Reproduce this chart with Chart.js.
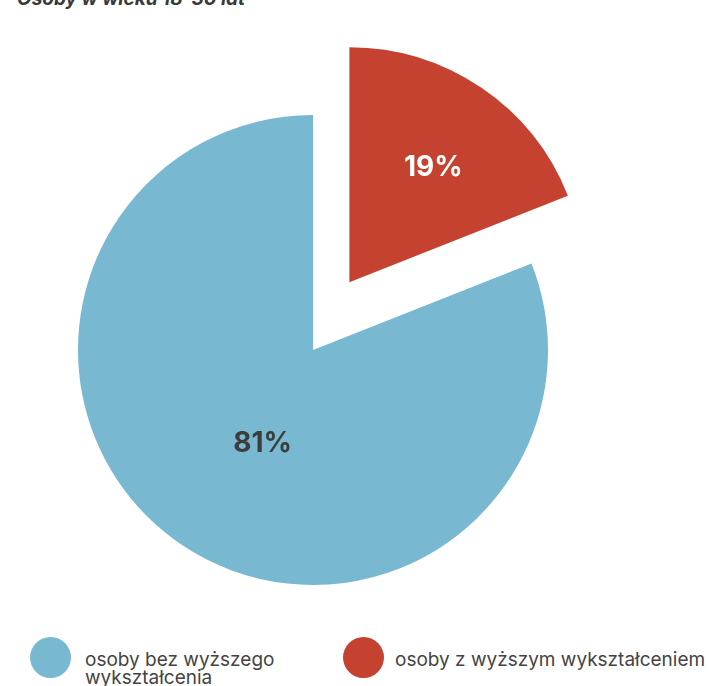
<!DOCTYPE html>
<html>
<head>
<meta charset="utf-8">
<script src="https://cdn.jsdelivr.net/npm/chart.js@4/dist/chart.umd.min.js"></script>
<style>
  html, body { margin: 0; padding: 0; background: #fff; width: 709px; height: 686px; overflow: hidden; }
  #wrap { position: relative; width: 709px; height: 686px; }
  #title { position: absolute; left: 17px; top: -13px; font: italic 700 19px Inter, sans-serif; color: #3a3a3a; white-space: nowrap; }
  canvas { position: absolute; left: 0; top: 0; }
  .dot { position: absolute; width: 41px; height: 41px; border-radius: 50%; }
  .txt { position: absolute; line-height: 18px; white-space: nowrap; }
</style>
</head>
<body>
<div id="wrap">
  <div id="title">Osoby w wieku 18-30 lat</div>
  <canvas id="c" width="709" height="620"></canvas>
  <div id="legend"></div>
</div>
<script>
const categories = ["osoby bez wyższego\nwykształcenia", "osoby z wyższym wykształceniem"];
const values = [81, 19];
const valueLabels = ["81%", "19%"];
const colors = ["#78b8d0", "#c4422f"];
const labelColors = ["#3d3d3d", "#ffffff"];

const total = values.reduce((a, b) => a + b, 0);

// explode slices: distance (px) and angle shift (deg) from the slice's mid angle
const explodeDist = [0, 77];
const explodeAngle = [0, -6];

const explodePlugin = {
  id: 'explode',
  afterDatasetUpdate(chart, args) {
    if (args.index !== 0) return;
    const meta = chart.getDatasetMeta(0);
    meta.data.forEach((arc, i) => {
      if (!explodeDist[i]) return;
      const mid = (arc.startAngle + arc.endAngle) / 2 + explodeAngle[i] * Math.PI / 180;
      arc.x += Math.cos(mid) * explodeDist[i];
      arc.y += Math.sin(mid) * explodeDist[i];
    });
  }
};

const labelPlugin = {
  id: 'sliceLabels',
  afterDatasetsDraw(chart) {
    const ctx = chart.ctx;
    const meta = chart.getDatasetMeta(0);
    const ratios = [0.453, 0.605];
    const angleTweak = [-6 * Math.PI / 180, 2 * Math.PI / 180];
    meta.data.forEach((arc, i) => {
      const p = arc.getProps(['x', 'y', 'startAngle', 'endAngle', 'outerRadius'], true);
      const mid = (p.startAngle + p.endAngle) / 2;
      const r = p.outerRadius * ratios[i];
      const a = mid + angleTweak[i];
      ctx.save();
      ctx.font = "700 28px Inter, sans-serif";
      ctx.fillStyle = labelColors[i];
      ctx.textAlign = "center";
      ctx.textBaseline = "middle";
      ctx.fillText(valueLabels[i], p.x + Math.cos(a) * r, p.y + Math.sin(a) * r);
      ctx.restore();
    });
  }
};

new Chart(document.getElementById('c'), {
  type: 'pie',
  data: {
    labels: categories,
    datasets: [{
      data: values,
      backgroundColor: colors,
      borderWidth: 0,
      hoverOffset: 0
    }]
  },
  options: {
    responsive: false,
    animation: false,
    rotation: 360 * values[1] / total,
    radius: 235,
    layout: { padding: { left: 0, right: 83, top: 80, bottom: 0 } },
    plugins: {
      legend: { display: false },
      tooltip: { enabled: false }
    }
  },
  plugins: [explodePlugin, labelPlugin]
});

// HTML legend
const legendPos = [
  { dx: 30, tx: 85 },
  { dx: 343, tx: 395 }
];
const legend = document.getElementById('legend');
categories.forEach((cat, i) => {
  const d = document.createElement('div');
  d.className = 'dot';
  d.style.left = legendPos[i].dx + 'px';
  d.style.top = '637px';
  d.style.background = colors[i];
  legend.appendChild(d);
  const t = document.createElement('div');
  t.className = 'txt';
  t.style.left = legendPos[i].tx + 'px';
  t.style.top = '651px';
  t.style.font = "400 19px Inter, sans-serif";
  t.style.lineHeight = "18px";
  t.style.color = "#444";
  t.innerHTML = cat.split("\n").join("<br>");
  legend.appendChild(t);
});
</script>
</body>
</html>
